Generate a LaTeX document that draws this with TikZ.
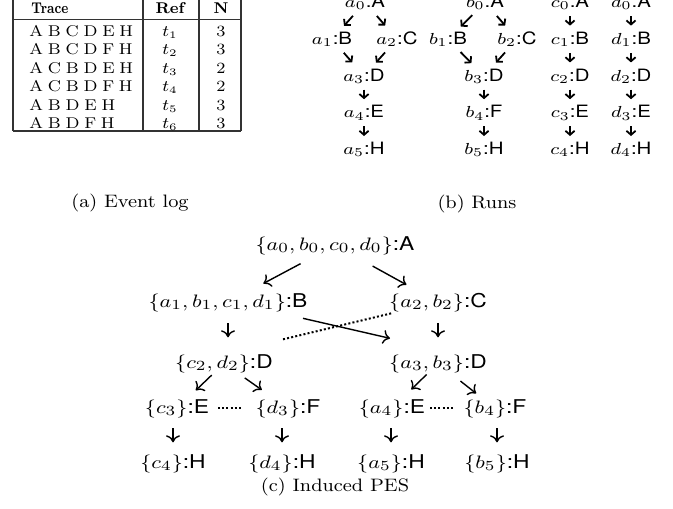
\documentclass[tikz,border=0pt]{standalone}
\usepackage{fontspec}
\newfontfamily\hv{TeX Gyre Heros}
\usetikzlibrary{arrows.meta}

% horizontally widened text, and the two kinds of event labels
\newcommand\xstr[1]{\scalebox{1.2}[1]{#1}}
\newcommand\tstr[1]{\scalebox{1.1}[1]{#1}}
\newcommand\ev[3]{\xstr{$#1_{#2}$\hv:#3}}
\newcommand\evset[2]{\xstr{$\{#1\}$\hv:#2}}

\tikzset{
  cell/.style={anchor=base, inner sep=0pt, font=\fontsize{7.8}{9}\selectfont},
  runlbl/.style={anchor=base, inner sep=0pt, font=\fontsize{8.5}{10}\selectfont},
  peslbl/.style={anchor=base, inner sep=0pt, font=\fontsize{9.5}{11}\selectfont},
  subcap/.style={anchor=base, inner sep=0pt, font=\fontsize{9}{11}\selectfont},
  tabrule/.style={line width=0.6pt, black!80},
  runarr/.style={line width=0.9pt, -{Straight Barb[length=2pt,width=4.6pt]}},
  rundiag/.style={runarr, shorten <=9pt, shorten >=9pt},
  runvert/.style={runarr, shorten <=6.8pt, shorten >=6.8pt},
  pesarr/.style={line width=0.7pt, -{Computer Modern Rightarrow[length=3.5pt,width=7pt]}},
  conflict/.style={line width=1pt, dash pattern=on 1pt off 1.1pt},
}

\begin{document}
\begin{tikzpicture}[x=0.5pt,y=-0.5pt]
\useasboundingbox (0,0) rectangle (673,508);
\clip (0,0) rectangle (673,508);

% ---------- (a) event log table ----------
\foreach \cx in {13,143,199,241} \draw[tabrule] (\cx,-2) -- (\cx,131);
\draw[tabrule] (13,19.5) -- (241,19.5);
\draw[tabrule] (13,131) -- (241,131);

\node[cell, anchor=base west] (hTrace) at (31,13.3) {\scalebox{0.8}[1]{\bfseries Trace}};
\node[cell] (hRef) at (170,13.3) {\bfseries Ref};
\node[cell] (hN) at (221,13.3) {\bfseries N};

\foreach \tr/\nn [count=\i] in {{A B C D E H}/3,{A B C D F H}/3,{A C B D E H}/2,
                                {A C B D F H}/2,{A B D E H}/3,{A B D F H}/3} {
  \node[cell, anchor=base west] (trace\i) at (29,{18.1+18.4*\i})
    {\tstr{\spaceskip=0.28em\relax\tr}};
  \node[cell] (ref\i) at (170,{18.1+18.4*\i}) {\tstr{$t_{\i}$}};
  \node[cell] (num\i) at (221,{18.1+18.4*\i}) {\tstr{\nn}};
}
\node[subcap] (capA) at (130,207) {\tstr{(a)\ Event log}};

% ---------- (b) runs ----------
\def\rA{7.5}\def\rB{44.3}\def\rC{81.1}\def\rD{117.9}\def\rE{154.7}
\node[runlbl] (ra0) at (365,\rA) {\ev{a}{0}{A}};
\node[runlbl] (ra1) at (332,\rB) {\ev{a}{1}{B}};
\node[runlbl] (ra2) at (397,\rB) {\ev{a}{2}{C}};
\node[runlbl] (ra3) at (364,\rC) {\ev{a}{3}{D}};
\node[runlbl] (ra4) at (364,\rD) {\ev{a}{4}{E}};
\node[runlbl] (ra5) at (364,\rE) {\ev{a}{5}{H}};

\node[runlbl] (rb0) at (485,\rA) {\ev{b}{0}{A}};
\node[runlbl] (rb1) at (448,\rB) {\ev{b}{1}{B}};
\node[runlbl] (rb2) at (517,\rB) {\ev{b}{2}{C}};
\node[runlbl] (rb3) at (484,\rC) {\ev{b}{3}{D}};
\node[runlbl] (rb4) at (484,\rD) {\ev{b}{4}{F}};
\node[runlbl] (rb5) at (484,\rE) {\ev{b}{5}{H}};

\node[runlbl] (rc0) at (570,\rA) {\ev{c}{0}{A}};
\node[runlbl] (rc1) at (570,\rB) {\ev{c}{1}{B}};
\node[runlbl] (rc2) at (570,\rC) {\ev{c}{2}{D}};
\node[runlbl] (rc3) at (570,\rD) {\ev{c}{3}{E}};
\node[runlbl] (rc4) at (570,\rE) {\ev{c}{4}{H}};

\node[runlbl] (rd0) at (631,\rA) {\ev{d}{0}{A}};
\node[runlbl] (rd1) at (631,\rB) {\ev{d}{1}{B}};
\node[runlbl] (rd2) at (631,\rC) {\ev{d}{2}{D}};
\node[runlbl] (rd3) at (631,\rD) {\ev{d}{3}{E}};
\node[runlbl] (rd4) at (631,\rE) {\ev{d}{4}{H}};

\draw[rundiag] (ra0.center) -- (ra1.center);
\draw[rundiag] (ra0.center) -- (ra2.center);
\draw[rundiag] (ra1.center) -- (ra3.center);
\draw[rundiag] (ra2.center) -- (ra3.center);
\draw[runvert] (ra3.center) -- (ra4.center);
\draw[runvert] (ra4.center) -- (ra5.center);

\draw[rundiag] (rb0.center) -- (rb1.center);
\draw[rundiag] (rb0.center) -- (rb2.center);
\draw[rundiag] (rb1.center) -- (rb3.center);
\draw[rundiag] (rb2.center) -- (rb3.center);
\draw[runvert] (rb3.center) -- (rb4.center);
\draw[runvert] (rb4.center) -- (rb5.center);

\foreach \u/\v in {0/1,1/2,2/3,3/4} {
  \draw[runvert] (rc\u.center) -- (rc\v.center);
  \draw[runvert] (rd\u.center) -- (rd\v.center);
}
\node[subcap] (capB) at (477,208) {\tstr{(b)\ Runs}};

% ---------- (c) induced prime event structure ----------
\node[peslbl] (pA)  at (335,250) {\evset{a_0, b_0, c_0, d_0}{A}};
\node[peslbl] (pB)  at (228,307) {\evset{a_1, b_1, c_1, d_1}{B}};
\node[peslbl] (pC)  at (438,307) {\evset{a_2, b_2}{C}};
\node[peslbl] (pD1) at (224,368) {\evset{c_2, d_2}{D}};
\node[peslbl] (pD2) at (438,368) {\evset{a_3, b_3}{D}};
\node[peslbl] (pE1) at (177,413) {\evset{c_3}{E}};
\node[peslbl] (pF1) at (288,413) {\evset{d_3}{F}};
\node[peslbl] (pE2) at (392,413) {\evset{a_4}{E}};
\node[peslbl] (pF2) at (495,413) {\evset{b_4}{F}};
\node[peslbl] (pH1) at (173,468) {\evset{c_4}{H}};
\node[peslbl] (pH2) at (282,468) {\evset{d_4}{H}};
\node[peslbl] (pH3) at (391,468) {\evset{a_5}{H}};
\node[peslbl] (pH4) at (497,468) {\evset{b_5}{H}};

\draw[pesarr, shorten <=19.5pt, shorten >=20pt] (pA.center) -- (pB.center);
\draw[pesarr, shorten <=21.5pt, shorten >=18pt] (pA.center) -- (pC.center);
\draw[pesarr, shorten <=10.4pt, shorten >=13pt] (pB.center) -- (pB.center |- pD1.center);
\draw[pesarr, shorten <=10.4pt, shorten >=13pt] (pC.center) -- (pD2.center);
\draw[pesarr] ([shift={(75,16)}]pB.center) -- ([shift={(-48,-25)}]pD2.center);
\draw[conflict] ([shift={(59,-24)}]pD1.center) -- ([shift={(-46,11)}]pC.center);

\draw[pesarr, shorten <=8.5pt, shorten >=13pt] (pD1.center) -- (pE1.center);
\draw[pesarr, shorten <=12.7pt, shorten >=16pt] (pD1.center) -- (pF1.center);
\draw[pesarr, shorten <=8pt, shorten >=13.5pt] (pD2.center) -- (pE2.center);
\draw[pesarr, shorten <=14.3pt, shorten >=12pt] (pD2.center) -- (pF2.center);

\draw[conflict] ([xshift=20.5pt]pE1.center) -- ([xshift=-22.5pt]pF1.center);
\draw[conflict] ([xshift=19pt]pE2.center) -- ([xshift=-20pt]pF2.center);

\draw[pesarr, shorten <=10pt, shorten >=10.5pt] (pE1.center -| pH1.center) -- (pH1.center);
\draw[pesarr, shorten <=10pt, shorten >=10.5pt] (pF1.center -| pH2.center) -- (pH2.center);
\draw[pesarr, shorten <=10pt, shorten >=10.5pt] (pE2.center -| pH3.center) -- (pH3.center);
\draw[pesarr, shorten <=10pt, shorten >=10.5pt] (pF2.center -| pH4.center) -- (pH4.center);

\node[subcap] (capC) at (335,491) {\tstr{(c)\ Induced PES}};
\end{tikzpicture}
\end{document}
